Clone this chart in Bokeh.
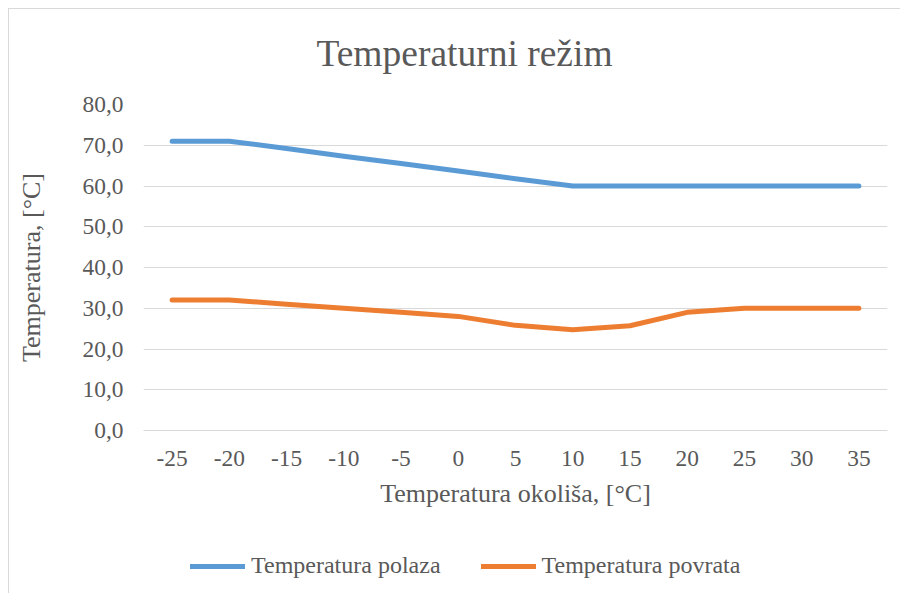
from bokeh.plotting import figure
from bokeh.layouts import column
from bokeh.models import FactorRange, Range1d, FixedTicker, Legend, LegendItem, ColumnDataSource, Label
from bokeh.embed import file_html
from bokeh.resources import INLINE

categories = ["-25", "-20", "-15", "-10", "-5", "0", "5", "10", "15", "20", "25", "30", "35"]
polaz = [71.0, 71.0, 69.2, 67.3, 65.5, 63.7, 61.8, 60.0, 60.0, 60.0, 60.0, 60.0, 60.0]
povrat = [32.0, 32.0, 31.0, 30.0, 29.0, 28.0, 25.8, 24.7, 25.7, 29.0, 30.0, 30.0, 30.0]
series_names = ["Temperatura polaza", "Temperatura povrata"]
y_ticks = [0, 10, 20, 30, 40, 50, 60, 70, 80]
y_tick_labels = ["0,0", "10,0", "20,0", "30,0", "40,0", "50,0", "60,0", "70,0", "80,0"]
chart_title = "Temperaturni režim"

FONT = "Liberation Serif"
TXT = "#595959"
GRID = "#d9d9d9"
BLUE = "#5B9BD5"
ORANGE = "#ED7D31"

src = ColumnDataSource(dict(x=categories, polaz=polaz, povrat=povrat))

def strip(height, x_range, y_range):
    f = figure(width=892, height=height, output_backend="svg", toolbar_location=None,
               x_range=x_range, y_range=y_range,
               x_axis_location=None, y_axis_location=None,
               min_border_left=0, min_border_right=0, min_border_top=0, min_border_bottom=0)
    f.outline_line_color = None
    f.xgrid.grid_line_color = None
    f.ygrid.grid_line_color = None
    return f

# --- title strip ---
tf = strip(76, Range1d(0, 744), Range1d(0, 76))
tf.styles = {"border-left": "1px solid #d9d9d9", "border-top": "1px solid #d9d9d9"}
tf.add_layout(Label(x=321, y=32.5, text=chart_title, text_align="center", text_baseline="alphabetic",
                    text_font=FONT, text_font_size="37.5px", text_color=TXT))

# --- main chart ---
p = figure(width=892, height=435, output_backend="svg", toolbar_location=None,
           x_range=FactorRange(*categories, range_padding=0),
           y_range=Range1d(0, 80),
           min_border_left=134, min_border_right=14, min_border_top=20, min_border_bottom=89)
p.styles = {"border-left": "1px solid #d9d9d9"}
p.outline_line_color = None

p.line("x", "polaz", source=src, line_color=BLUE, line_width=5, line_cap="round", line_join="round")
p.line("x", "povrat", source=src, line_color=ORANGE, line_width=5, line_cap="round", line_join="round")

p.xgrid.grid_line_color = None
p.ygrid.grid_line_color = GRID
p.ygrid.grid_line_width = 1

p.yaxis.ticker = FixedTicker(ticks=y_ticks)
p.yaxis.major_label_overrides = {t: l for t, l in zip(y_ticks, y_tick_labels)}
p.yaxis.axis_line_color = None
p.yaxis.major_tick_line_color = None
p.yaxis.minor_tick_line_color = None
p.yaxis.major_tick_out = 0
p.yaxis.major_label_standoff = 20
p.yaxis.axis_label = "Temperatura, [°C]"
p.yaxis.axis_label_standoff = 34

p.xaxis.axis_line_color = GRID
p.xaxis.major_tick_line_color = None
p.xaxis.major_tick_out = 0
p.xaxis.major_label_standoff = 20
p.xaxis.axis_label = "Temperatura okoliša, [°C]"
p.xaxis.axis_label_standoff = 10

for ax in (p.xaxis[0], p.yaxis[0]):
    ax.major_label_text_font = FONT
    ax.major_label_text_font_size = "23.4px"
    ax.major_label_text_color = TXT
    ax.axis_label_text_font = FONT
    ax.axis_label_text_font_size = "26px"
    ax.axis_label_text_font_style = "normal"
    ax.axis_label_text_color = TXT

# --- legend strip (same series, drawn outside its visible range) ---
lf = strip(74, FactorRange(*categories, range_padding=0), Range1d(200, 201))
lf.styles = {"border-left": "1px solid #d9d9d9"}
l1 = lf.line("x", "polaz", source=src, line_color=BLUE, line_width=5, line_cap="round")
l2 = lf.line("x", "povrat", source=src, line_color=ORANGE, line_width=5, line_cap="round")

legend = Legend(items=[LegendItem(label=series_names[0], renderers=[l1]),
                       LegendItem(label=series_names[1], renderers=[l2])],
                orientation="horizontal", location=(47, 14))
legend.label_text_font = FONT
legend.label_text_font_size = "24px"
legend.label_text_color = TXT
legend.glyph_width = 55
legend.glyph_height = 20
legend.label_standoff = 6
legend.spacing = 40
legend.padding = 0
legend.margin = 0
legend.border_line_color = None
legend.background_fill_alpha = 0
lf.add_layout(legend, "center")

layout = column(tf, p, lf, spacing=0)
layout.styles = {"margin-left": "8px", "margin-top": "8px"}

open("out.html", "w").write(file_html(layout, INLINE))
